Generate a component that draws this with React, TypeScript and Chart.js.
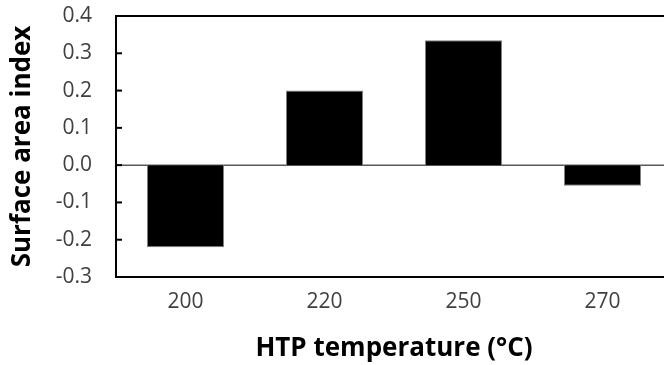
import React, { useEffect, useRef } from 'react';
import { Chart, registerables } from 'chart.js';

Chart.register(...registerables);

const categories = ['200', '220', '250', '270'];
const values = [-0.22, 0.2, 0.335, -0.055];
const yMin = -0.3;
const yMax = 0.4;
const yStep = 0.1;
const xTitle = 'HTP temperature (°C)';
const yTitle = 'Surface area index';

const framePlugin = {
  id: 'framePlugin',
  beforeDatasetsDraw(chart: any) {
    const { ctx, chartArea: a, scales } = chart;
    const y = scales.y;
    const pz = y.getPixelForValue(0);
    ctx.save();
    ctx.strokeStyle = '#595959';
    ctx.lineWidth = 1.5;
    ctx.beginPath();
    ctx.moveTo(a.left, pz);
    ctx.lineTo(a.right, pz);
    ctx.stroke();
    ctx.restore();
  },
  afterDraw(chart: any) {
    const { ctx, chartArea: a, scales } = chart;
    const y = scales.y;
    ctx.save();
    ctx.strokeStyle = '#000';
    ctx.lineWidth = 2;
    ctx.beginPath();
    ctx.moveTo(a.left - 1, a.top);
    ctx.lineTo(a.right + 1, a.top);
    ctx.stroke();
    y.ticks.forEach((t: any) => {
      const py = y.getPixelForValue(t.value);
      ctx.beginPath();
      ctx.moveTo(a.left, py);
      ctx.lineTo(a.left + 6, py);
      ctx.stroke();
    });
    ctx.restore();
  },
};

export default function App() {
  const ref = useRef<HTMLCanvasElement | null>(null);
  useEffect(() => {
    if (!ref.current) return;
    const chart = new Chart(ref.current, {
      type: 'bar',
      data: {
        labels: categories,
        datasets: [
          {
            data: values,
            backgroundColor: '#000000',
            borderColor: '#808080',
            borderWidth: 1,
            categoryPercentage: 1,
            barPercentage: 0.554,
          },
        ],
      },
      options: {
        responsive: false,
        animation: false,
        layout: { padding: { left: 0, right: 28, top: 16, bottom: 0 } },
        plugins: { legend: { display: false }, tooltip: { enabled: false } },
        scales: {
          x: {
            grid: { display: false, drawTicks: false },
            border: { display: true, color: '#000', width: 2 },
            ticks: {
              color: '#404040',
              font: { family: 'Open Sans', size: 21 },
              padding: 12,
            },
            title: {
              display: true,
              text: xTitle,
              color: '#000',
              font: { family: 'Open Sans', size: 26, weight: 'bold' },
              padding: { top: 0, bottom: 1 },
            },
            afterFit: (s: any) => {
              s.height = 88;
              s.paddingLeft = 0;
              s.paddingRight = 0;
            },
          },
          y: {
            min: yMin,
            max: yMax,
            grid: { display: false, drawTicks: false },
            border: { display: true, color: '#000', width: 2 },
            ticks: {
              stepSize: yStep,
              color: '#404040',
              font: { family: 'Open Sans', size: 21 },
              padding: 24,
              callback: (v: any) => Number(v).toFixed(1),
            },
            title: {
              display: true,
              text: yTitle,
              color: '#000',
              font: { family: 'Open Sans', size: 26, weight: 'bold' },
              padding: { top: 7, bottom: 0 },
            },
            afterFit: (s: any) => {
              s.width = 116;
              s.paddingTop = 0;
              s.paddingBottom = 0;
            },
          },
        },
      },
      plugins: [framePlugin],
    });
    return () => chart.destroy();
  }, []);
  return (
    <div
      style={{
        position: 'fixed',
        left: 0,
        top: 0,
        width: 664,
        height: 365,
        overflow: 'hidden',
        background: '#fff',
      }}
    >
      <canvas ref={ref} width={700} height={365} style={{ width: 700, height: 365, display: 'block' }} />
    </div>
  );
}
